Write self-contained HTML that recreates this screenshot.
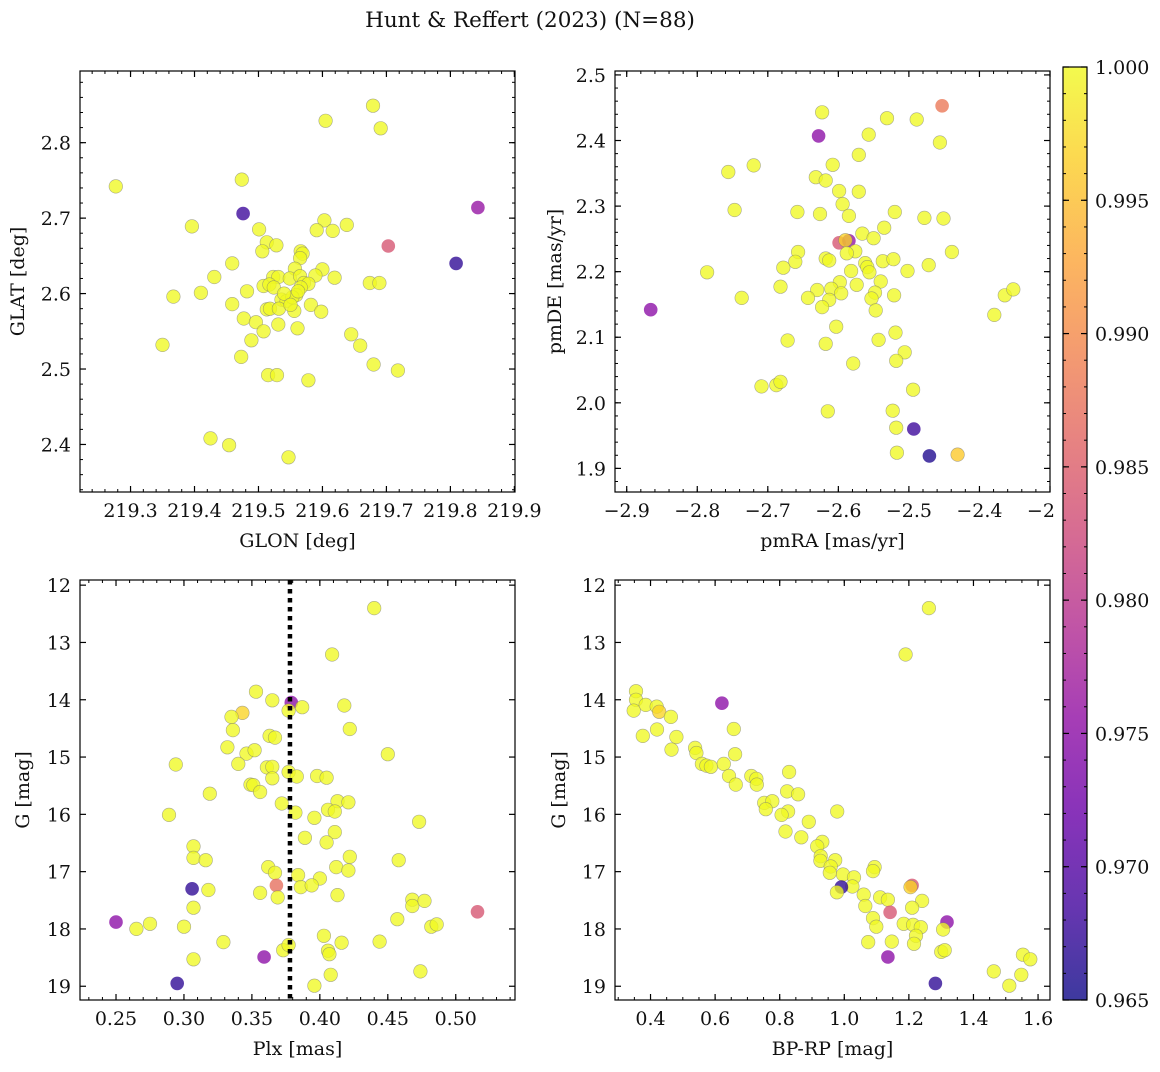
<!DOCTYPE html>
<html><head><meta charset="utf-8"><style>
html,body{margin:0;padding:0;background:#fff;}
svg text{font-family:"DejaVu Serif","Liberation Serif",serif;fill:#111;}
</style></head><body>
<svg id="fig" width="1160" height="1067" xmlns="http://www.w3.org/2000/svg">
<text x="530" y="27" text-anchor="middle" font-size="21.5">Hunt &amp; Reffert (2023) (N=88)</text>
<defs><linearGradient id="cmap" x1="0" y1="1" x2="0" y2="0">
<stop offset="0" stop-color="#0d0887"/><stop offset="0.1" stop-color="#41049d"/><stop offset="0.2" stop-color="#6a00a8"/><stop offset="0.3" stop-color="#8f0da4"/><stop offset="0.4" stop-color="#b12a90"/><stop offset="0.5" stop-color="#cc4778"/><stop offset="0.6" stop-color="#e16462"/><stop offset="0.7" stop-color="#f2844b"/><stop offset="0.8" stop-color="#fca636"/><stop offset="0.9" stop-color="#fcce25"/><stop offset="1" stop-color="#f0f921"/>
</linearGradient></defs>
</svg>
<script>
// [x, y, probability]
const posData=[[219.679,2.849,1],[219.605,2.829,1],[219.691,2.819,1],[219.277,2.742,1],[219.474,2.751,1],[219.476,2.706,0.968],[219.843,2.714,0.976],[219.396,2.689,1],[219.501,2.685,1],[219.603,2.697,1],[219.591,2.684,1],[219.616,2.683,1],[219.638,2.691,1],[219.703,2.663,0.984],[219.809,2.640,0.967],[219.513,2.668,1],[219.528,2.664,1],[219.506,2.656,1],[219.566,2.656,1],[219.569,2.653,1],[219.565,2.647,1],[219.459,2.640,1],[219.557,2.633,1],[219.600,2.632,1],[219.431,2.622,1],[219.523,2.622,1],[219.531,2.622,1],[219.549,2.620,1],[219.565,2.623,1],[219.589,2.624,1],[219.619,2.621,1],[219.508,2.610,1],[219.517,2.612,1],[219.524,2.608,1],[219.571,2.614,1],[219.578,2.613,1],[219.566,2.608,1],[219.674,2.614,1],[219.689,2.614,1],[219.367,2.596,1],[219.410,2.601,1],[219.482,2.603,1],[219.559,2.598,1],[219.536,2.592,1],[219.544,2.590,1],[219.459,2.586,1],[219.582,2.585,1],[219.513,2.579,1],[219.518,2.580,1],[219.532,2.580,1],[219.556,2.577,1],[219.598,2.576,1],[219.477,2.567,1],[219.496,2.562,1],[219.531,2.559,1],[219.561,2.554,1],[219.508,2.550,1],[219.645,2.546,1],[219.350,2.532,1],[219.489,2.538,1],[219.659,2.531,1],[219.473,2.516,1],[219.680,2.506,1],[219.718,2.498,1],[219.515,2.492,1],[219.529,2.492,1],[219.578,2.485,1],[219.425,2.408,1],[219.454,2.399,1],[219.547,2.383,1],[219.553,2.595,1],[219.540,2.600,1],[219.562,2.603,1],[219.550,2.585,1]];
const pmData=[[-2.623,2.443,1],[-2.628,2.407,0.975],[-2.531,2.434,1],[-2.489,2.432,1],[-2.453,2.453,0.988],[-2.456,2.397,1],[-2.557,2.409,1],[-2.571,2.378,1],[-2.608,2.363,1],[-2.720,2.362,1],[-2.756,2.352,1],[-2.632,2.344,1],[-2.618,2.339,1],[-2.599,2.323,1],[-2.571,2.322,1],[-2.594,2.303,1],[-2.747,2.294,1],[-2.658,2.291,1],[-2.626,2.288,1],[-2.585,2.285,1],[-2.520,2.291,1],[-2.478,2.282,1],[-2.451,2.281,1],[-2.535,2.267,1],[-2.566,2.258,1],[-2.550,2.251,1],[-2.599,2.244,0.984],[-2.585,2.247,0.976],[-2.590,2.248,0.997],[-2.576,2.231,1],[-2.588,2.228,1],[-2.657,2.230,1],[-2.661,2.215,1],[-2.618,2.220,1],[-2.613,2.217,1],[-2.678,2.206,1],[-2.562,2.213,1],[-2.559,2.207,1],[-2.537,2.216,1],[-2.522,2.219,1],[-2.472,2.210,1],[-2.439,2.230,1],[-2.786,2.199,1],[-2.582,2.201,1],[-2.556,2.199,1],[-2.502,2.201,1],[-2.598,2.184,1],[-2.540,2.185,1],[-2.682,2.177,1],[-2.574,2.180,1],[-2.630,2.172,1],[-2.610,2.174,1],[-2.596,2.167,1],[-2.548,2.168,1],[-2.737,2.160,1],[-2.643,2.160,1],[-2.613,2.157,1],[-2.553,2.159,1],[-2.521,2.164,1],[-2.364,2.164,1],[-2.352,2.173,1],[-2.623,2.146,1],[-2.547,2.141,1],[-2.866,2.142,0.975],[-2.379,2.134,1],[-2.603,2.116,1],[-2.519,2.107,1],[-2.672,2.095,1],[-2.543,2.096,1],[-2.618,2.090,1],[-2.506,2.077,1],[-2.518,2.064,1],[-2.579,2.060,1],[-2.709,2.025,1],[-2.688,2.027,1],[-2.682,2.032,1],[-2.494,2.020,1],[-2.615,1.987,1],[-2.523,1.988,1],[-2.518,1.962,1],[-2.493,1.960,0.968],[-2.517,1.924,1],[-2.471,1.919,0.966],[-2.431,1.921,0.996]];
const plxData=[[0.440,12.40,1],[0.409,13.21,1],[0.353,13.86,1],[0.365,14.01,1],[0.379,14.05,0.975],[0.387,14.13,1],[0.377,14.19,1],[0.418,14.10,1],[0.343,14.23,0.997],[0.335,14.30,1],[0.422,14.51,1],[0.336,14.53,1],[0.363,14.63,1],[0.367,14.66,1],[0.332,14.83,1],[0.346,14.94,1],[0.352,14.88,1],[0.450,14.95,1],[0.294,15.13,1],[0.340,15.12,1],[0.361,15.18,1],[0.365,15.17,1],[0.377,15.26,1],[0.383,15.34,1],[0.365,15.37,1],[0.398,15.33,1],[0.405,15.36,1],[0.349,15.48,1],[0.351,15.49,1],[0.356,15.61,1],[0.319,15.64,1],[0.372,15.81,1],[0.413,15.77,1],[0.421,15.79,1],[0.406,15.92,1],[0.411,15.95,1],[0.382,15.97,1],[0.289,16.01,1],[0.396,16.06,1],[0.473,16.13,1],[0.389,16.41,1],[0.411,16.31,1],[0.405,16.49,1],[0.307,16.56,1],[0.422,16.74,1],[0.307,16.76,1],[0.316,16.80,1],[0.458,16.80,1],[0.362,16.92,1],[0.412,16.92,1],[0.367,17.02,1],[0.421,16.98,1],[0.384,17.06,1],[0.400,17.12,1],[0.306,17.30,0.967],[0.368,17.24,0.987],[0.386,17.27,1],[0.394,17.24,1],[0.318,17.32,1],[0.356,17.37,1],[0.369,17.45,1],[0.413,17.41,1],[0.307,17.63,1],[0.468,17.49,1],[0.468,17.60,1],[0.477,17.51,1],[0.516,17.70,0.984],[0.250,17.88,0.975],[0.265,18.00,1],[0.275,17.91,1],[0.300,17.96,1],[0.457,17.83,1],[0.482,17.96,1],[0.486,17.92,1],[0.329,18.23,1],[0.403,18.12,1],[0.416,18.24,1],[0.444,18.22,1],[0.373,18.37,1],[0.377,18.28,1],[0.406,18.38,1],[0.407,18.44,1],[0.359,18.49,0.975],[0.307,18.53,1],[0.474,18.74,1],[0.408,18.80,1],[0.295,18.95,0.967],[0.396,18.99,1]];
const cmdData=[[0.355,13.85,1],[0.355,14.00,1],[0.385,14.09,1],[0.419,14.12,1],[0.427,14.21,0.997],[0.348,14.19,1],[0.463,14.30,1],[0.621,14.06,0.975],[0.658,14.51,1],[0.376,14.63,1],[0.420,14.52,1],[0.480,14.65,1],[0.465,14.87,1],[0.538,14.84,1],[0.542,14.93,1],[0.662,14.95,1],[0.559,15.12,1],[0.573,15.15,1],[0.587,15.17,1],[0.627,15.12,1],[0.643,15.33,1],[0.664,15.48,1],[0.712,15.33,1],[0.728,15.38,1],[0.729,15.48,1],[0.829,15.26,1],[0.823,15.60,1],[0.857,15.65,1],[0.752,15.80,1],[0.777,15.77,1],[0.757,15.91,1],[0.826,15.95,1],[0.806,16.01,1],[0.978,15.95,1],[0.890,16.13,1],[0.818,16.30,1],[0.867,16.40,1],[0.932,16.48,1],[0.916,16.56,1],[0.927,16.73,1],[0.926,16.81,1],[0.972,16.80,1],[0.958,16.91,1],[0.955,17.02,1],[0.996,17.05,1],[1.030,17.10,1],[1.025,17.26,1],[1.094,16.92,1],[1.089,16.99,1],[0.991,17.27,0.967],[0.977,17.36,1],[1.060,17.40,1],[1.111,17.45,1],[1.135,17.49,1],[1.065,17.60,1],[1.210,17.24,0.984],[1.205,17.27,0.997],[1.241,17.51,1],[1.210,17.63,1],[1.142,17.71,0.984],[1.089,17.81,1],[1.099,17.96,1],[1.184,17.91,1],[1.213,17.93,1],[1.237,17.97,1],[1.318,17.88,0.975],[1.306,18.01,1],[1.222,18.12,1],[1.216,18.26,1],[1.074,18.23,1],[1.147,18.22,1],[1.300,18.40,1],[1.311,18.37,1],[1.135,18.49,0.975],[1.463,18.74,1],[1.553,18.45,1],[1.576,18.53,1],[1.548,18.80,1],[1.511,18.99,1],[1.282,18.95,0.967],[1.190,13.21,1],[1.262,12.40,1]];
const posXTicks=[219.3,219.4,219.5,219.6,219.7,219.8,219.9];
const posYTicks=[2.4,2.5,2.6,2.7,2.8];
const pmXTicks=[-2.9,-2.8,-2.7,-2.6,-2.5,-2.4,-2.3];
const pmYTicks=[1.9,2.0,2.1,2.2,2.3,2.4,2.5];
const plxXTicks=[0.25,0.30,0.35,0.40,0.45,0.50];
const magTicks=[12,13,14,15,16,17,18,19];
const cmdXTicks=[0.4,0.6,0.8,1.0,1.2,1.4,1.6];
const cbTicks=[0.965,0.970,0.975,0.980,0.985,0.990,0.995,1.000];
const plxMean=[0.378];
const cmin=0.965,cmax=1.0;

const NS='http://www.w3.org/2000/svg';
const svg=document.getElementById('fig');
const FS=19;
function mk(tag,attrs,parent){const e=document.createElementNS(NS,tag);for(const k in attrs)e.setAttribute(k,attrs[k]);(parent||svg).appendChild(e);return e;}
const stops=[[13,8,135],[65,4,157],[106,0,168],[143,13,164],[177,42,144],[204,71,120],[225,100,98],[242,132,75],[252,166,54],[252,206,37],[240,249,33]];
function cmap(v){let t=(v-cmin)/(cmax-cmin);t=Math.max(0,Math.min(1,t))*10;const i=Math.min(9,Math.floor(t)),f=t-i;const a=stops[i],b=stops[i+1];return 'rgb('+a.map((c,k)=>Math.round(c+(b[k]-c)*f)).join(',')+')';}

function panel(name,box,xr,yr,xt,yt,xminor,yminor,data,xlabel,ylabel,fmtx,fmty,ylabX){
  const g=mk('g',{});
  
  
  const [L,T,R,B]=box;
  const sx=v=>L+(v-xr[0])/(xr[1]-xr[0])*(R-L);
  const sy=v=>B-(v-yr[0])/(yr[1]-yr[0])*(B-T);
  const cp='clip-'+name;
  const cl=mk('clipPath',{id:cp},g);mk('rect',{x:L,y:T,width:R-L,height:B-T},cl);
  const pts=mk('g',{'clip-path':'url(#'+cp+')'},g);
  data.forEach(d=>{
    const c=mk('circle',{cx:sx(d[0]).toFixed(1),cy:sy(d[1]).toFixed(1),r:6.8,fill:cmap(d[2]),'fill-opacity':0.78,stroke:d[2]>0.99?'#777':'none','stroke-opacity':0.6,'stroke-width':0.6},pts);
    
    
  });
  mk('rect',{x:L,y:T,width:R-L,height:B-T,fill:'none',stroke:'#000','stroke-width':1.2},g);
  const eps=1e-9;
  for(let v=Math.ceil(xr[0]/xminor-eps)*xminor;v<=xr[1]+eps;v+=xminor){const x=sx(v);mk('line',{x1:x,x2:x,y1:B,y2:B-3,stroke:'#000'},g);mk('line',{x1:x,x2:x,y1:T,y2:T+3,stroke:'#000'},g);}
  for(let v=Math.ceil(yr[0]/yminor-eps)*yminor;v<=yr[1]+eps;v+=yminor){const y=sy(v);mk('line',{x1:L,x2:L+3,y1:y,y2:y,stroke:'#000'},g);mk('line',{x1:R,x2:R-3,y1:y,y2:y,stroke:'#000'},g);}
  xt.forEach(v=>{const x=sx(v);if(x<L-1||x>R+1)return;mk('line',{x1:x,x2:x,y1:B,y2:B-6,stroke:'#000','stroke-width':1.2},g);mk('line',{x1:x,x2:x,y1:T,y2:T+6,stroke:'#000','stroke-width':1.2},g);
    const t=mk('text',{x:x,y:B+25,'text-anchor':'middle','font-size':FS},g);t.textContent=fmtx(v);});
  yt.forEach(v=>{const y=sy(v);if(y<T-1||y>B+1)return;mk('line',{x1:L,x2:L+6,y1:y,y2:y,stroke:'#000','stroke-width':1.2},g);mk('line',{x1:R,x2:R-6,y1:y,y2:y,stroke:'#000','stroke-width':1.2},g);
    const t=mk('text',{x:L-9,y:y+7,'text-anchor':'end','font-size':FS},g);t.textContent=fmty(v);});
  const xl=mk('text',{x:(L+R)/2,y:B+55,'text-anchor':'middle','font-size':FS},g);xl.textContent=xlabel;
  
  const yl=mk('text',{x:ylabX,y:(T+B)/2,'text-anchor':'middle','font-size':FS,transform:'rotate(-90 '+ylabX+' '+(T+B)/2+')'},g);yl.textContent=ylabel;
  
  return {sx,sy,g,T,B};
}
const mfmt=v=>(v<0?'\u2212':'')+Math.abs(v).toFixed(1);
panel('glon-glat-panel',[80,71,515,492],[219.221,219.901],[2.337,2.895],posXTicks,posYTicks,0.02,0.02,posData,'GLON [deg]','GLAT [deg]',v=>v.toFixed(1),v=>v.toFixed(1),24);
panel('pm-panel',[615,71,1050,492],[-2.9166,-2.3],[1.864,2.506],pmXTicks,pmYTicks,0.02,0.02,pmData,'pmRA [mas/yr]','pmDE [mas/yr]',mfmt,v=>v.toFixed(1),561);
const p3=panel('plx-panel',[80,580,515,1000],[0.2235,0.5436],[19.24,11.91],plxXTicks,magTicks,0.01,0.2,plxData,'Plx [mas]','G [mag]',v=>v.toFixed(2),v=>String(v),29);
const mx=p3.sx(plxMean[0]);
const ml=mk('line',{x1:mx,x2:mx,y1:580,y2:1000,stroke:'#000','stroke-width':4.5,'stroke-dasharray':'4.5 4.5'});


panel('cmd-panel',[615,580,1050,1000],[0.29,1.637],[19.24,11.91],cmdXTicks,magTicks,0.05,0.2,cmdData,'BP-RP [mag]','G [mag]',v=>v.toFixed(1),v=>String(v),565);

// mask for clipped -2.3 label
mk('rect',{x:1055,y:496,width:60,height:32,fill:'#fff'});
// colorbar
const cb=mk('g',{});


const cT=67,cB=1000,cL=1063,cR=1087;
mk('rect',{x:cL,y:cT,width:cR-cL,height:cB-cT,fill:'url(#cmap)','fill-opacity':0.8},cb);
mk('rect',{x:cL,y:cT,width:cR-cL,height:cB-cT,fill:'none',stroke:'#000','stroke-width':1.2},cb);
const cy=v=>cB-(v-cmin)/(cmax-cmin)*(cB-cT);
for(let v=cmin;v<=cmax+1e-9;v+=0.001){const y=cy(v);mk('line',{x1:cR,x2:cR-3,y1:y,y2:y,stroke:'#000'},cb);mk('line',{x1:cL,x2:cL+3,y1:y,y2:y,stroke:'#000'},cb);}
cbTicks.forEach(v=>{const y=cy(v);mk('line',{x1:cR,x2:cR-6,y1:y,y2:y,stroke:'#000','stroke-width':1.2},cb);mk('line',{x1:cL,x2:cL+6,y1:y,y2:y,stroke:'#000','stroke-width':1.2},cb);
  const t=mk('text',{x:cR+8,y:y+7,'font-size':FS},cb);t.textContent=v.toFixed(3);
  
  });
</script>
</body></html>
